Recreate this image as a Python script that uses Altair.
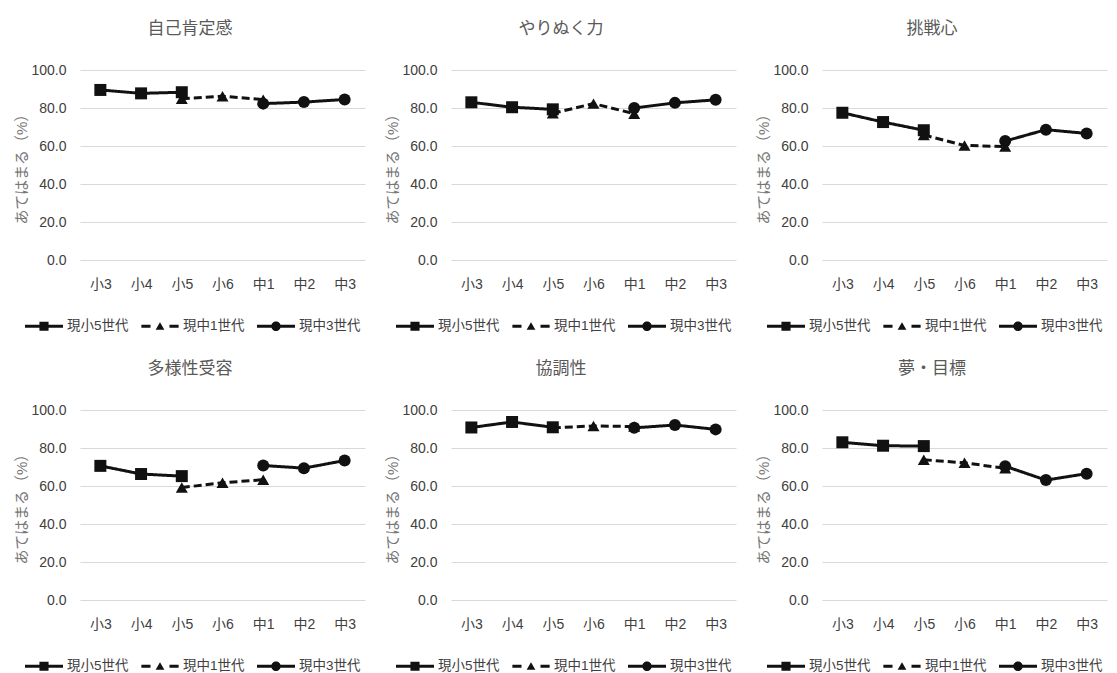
import altair as alt
import pandas as pd

# Grades along the x axis and the three cohorts that are followed through them
grades = ["小3", "小4", "小5", "小6", "中1", "中2", "中3"]
series_names = ["現小5世代", "現中1世代", "現中3世代"]
panel_titles = ["自己肯定感", "やりぬく力", "挑戦心", "多様性受容", "協調性", "夢・目標"]

# Grades covered by each cohort
grades_s5 = ["小3", "小4", "小5"]
grades_m1 = ["小5", "小6", "中1"]
grades_m3 = ["中1", "中2", "中3"]

# Share answering "あてはまる" (%), one list per panel, in panel_titles order
values_s5 = [
    [89.5, 87.7, 88.3],
    [83.0, 80.4, 79.3],
    [77.5, 72.6, 68.3],
    [70.6, 66.3, 65.2],
    [90.8, 93.7, 90.9],
    [83.0, 81.2, 81.0],
]
values_m1 = [
    [84.9, 86.2, 84.4],
    [77.2, 82.3, 77.0],
    [65.8, 60.3, 59.7],
    [59.2, 61.7, 63.3],
    [90.6, 91.6, 91.3],
    [73.8, 72.2, 69.3],
]
values_m3 = [
    [82.3, 83.1, 84.5],
    [80.0, 82.7, 84.3],
    [62.6, 68.6, 66.6],
    [70.8, 69.4, 73.4],
    [90.6, 92.1, 89.8],
    [70.4, 63.1, 66.5],
]

rows = []
for i, title in enumerate(panel_titles):
    for name, gs, vals in (
        (series_names[0], grades_s5, values_s5[i]),
        (series_names[1], grades_m1, values_m1[i]),
        (series_names[2], grades_m3, values_m3[i]),
    ):
        for g, v in zip(gs, vals):
            rows.append({"panel": title, "series": name, "grade": g, "value": v})
df = pd.DataFrame(rows)

INK = "#111111"
FONT = "Liberation Sans, Noto Sans CJK JP, sans-serif"

# Legend keys drawn as filled shapes: a thick line with the marker in the
# middle (the 現中1世代 key is dashed)
key_paths = [
    "M-1,-0.08H1V0.08H-1Z"
    "M-0.24,-0.24H0.24V0.24H-0.24Z",
    "M-0.98,-0.08H-0.5V0.08H-0.98Z"
    "M0.5,-0.08H0.98V0.08H0.5Z"
    "M0,-0.21L0.23,0.18L-0.23,0.18Z",
    "M-1,-0.08H1V0.08H-1Z"
    "M0.25,0A0.25,0.25 0 1,1 -0.25,0A0.25,0.25 0 1,1 0.25,0Z",
]

PLOT_W, PLOT_H = 285, 190


def panel(title):
    base = alt.Chart(df).transform_filter(alt.datum.panel == title)
    x = alt.X(
        "grade:N",
        sort=grades,
        scale=alt.Scale(domain=grades, padding=0.5),
        axis=alt.Axis(title=None, labelAngle=0, labelPadding=17, ticks=False),
    )
    y = alt.Y(
        "value:Q",
        scale=alt.Scale(domain=[0, 100]),
        axis=alt.Axis(
            values=[0, 20, 40, 60, 80, 100],
            format=".1f",
            title="あてはまる（%）",
            titleColor="#767676",
            titleFontWeight="normal",
            titleFontSize=15,
            titlePadding=1,
            labelPadding=14,
            ticks=False,
            domain=False,
        ),
    )
    lines = base.mark_line(color=INK, strokeWidth=3).encode(
        x=x,
        y=y,
        detail="series:N",
        strokeDash=alt.StrokeDash(
            "series:N",
            scale=alt.Scale(domain=series_names, range=[[1, 0], [8, 4], [1, 0]]),
            legend=None,
        ),
    )
    points = base.mark_point(filled=True, size=144, color=INK, opacity=1).encode(
        x=x,
        y=y,
        shape=alt.Shape(
            "series:N",
            scale=alt.Scale(domain=series_names, range=["square", "triangle-up", "circle"]),
            legend=None,
        ),
    )
    key = (
        base.transform_filter("false")
        .mark_point(filled=True, color=INK, size=1444, opacity=1)
        .encode(
            shape=alt.Shape(
                "series:N",
                scale=alt.Scale(domain=series_names, range=key_paths),
                legend=alt.Legend(
                    title=None,
                    orient="none",
                    direction="horizontal",
                    columns=3,
                    legendX=-55,
                    legendY=237,
                    symbolSize=1444,
                    symbolStrokeWidth=0,
                    symbolFillColor=INK,
                    symbolOpacity=1,
                    labelFont=FONT,
                    labelFontSize=13.5,
                    labelColor="#404040",
                    labelOffset=4,
                    columnPadding=12,
                ),
            )
        )
    )
    return (
        alt.layer(lines, points, key)
        .resolve_scale(shape="independent")
        .properties(
            width=PLOT_W,
            height=PLOT_H,
            title=alt.TitleParams(
                title,
                font=FONT,
                fontSize=17,
                fontWeight="normal",
                color="#595959",
                anchor="middle",
                frame="bounds",
                offset=25,
            ),
        )
    )


top = alt.hconcat(*[panel(t) for t in panel_titles[:3]], spacing=20)
bottom = alt.hconcat(*[panel(t) for t in panel_titles[3:]], spacing=20)

chart = (
    alt.vconcat(top, bottom, spacing=27)
    .resolve_scale(shape="independent", strokeDash="independent")
    .resolve_legend(shape="independent")
    .properties(padding={"left": 14, "top": 20, "right": 5, "bottom": 0}, background="white")
    .configure_view(stroke=None)
    .configure_axis(
        labelFont=FONT,
        titleFont=FONT,
        labelFontSize=14,
        labelColor="#404040",
        gridColor="#d9d9d9",
        gridWidth=1,
        domainColor="#d9d9d9",
    )
    .configure_axisX(grid=False, domain=False)
)

chart.save("out.html", embed_options={"renderer": "svg", "actions": False})
